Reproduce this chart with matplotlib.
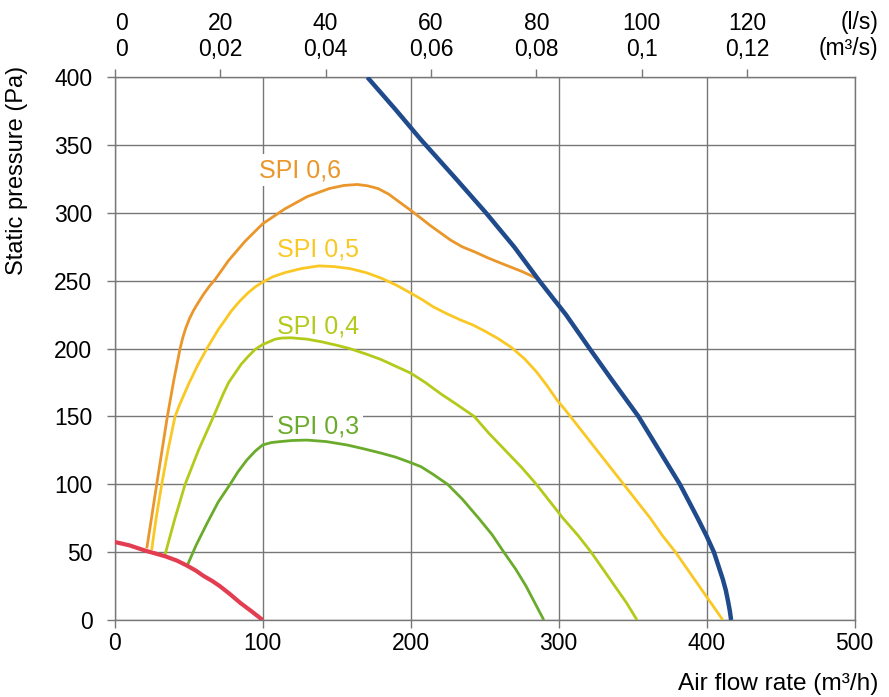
import matplotlib
matplotlib.use("Agg")
import matplotlib.pyplot as plt

plt.rcParams['font.family'] = ['Liberation Sans', 'DejaVu Sans']

# fan curve (max speed) and minimum curve, air flow in m3/h, pressure in Pa
fan_max_x = [170.8, 190, 207, 230, 251, 270, 287, 305, 321, 336, 345, 354, 361, 368, 375, 382, 388,
             394, 400, 405, 408, 411, 413, 414.5, 415.7, 416.6]
fan_max_y = [400, 376, 354, 326, 300, 275, 250, 225, 200, 177, 163.5, 150, 137.5, 125, 112.5, 100, 87.5,
             75, 62, 50, 40, 30, 22, 14, 7, 0]

fan_min_x = [0, 10, 21, 34, 42, 49, 55, 60, 66, 71, 78, 85, 92, 100]
fan_min_y = [57.5, 55, 51, 47, 43.8, 40, 36.3, 32.5, 28.7, 25, 19, 12.5, 6.8, 0]

# SPI iso-curves
spi06_x = [21.7, 25, 28.4, 32, 35.6, 40, 44.2, 46, 48, 50.5, 53.2, 56.5, 60, 64, 67.9, 77, 88, 100,
           115, 130, 145, 155, 164, 171, 178, 185, 190, 200, 206, 213, 220, 227, 235, 244, 252,
           261, 268, 275, 281, 287]
spi06_y = [52.8, 76, 100, 125, 150, 177, 200, 208, 215, 222, 228, 234, 240, 246, 251, 265, 279, 292,
           303, 312, 318, 320.3, 321, 320, 318, 314, 310, 302, 297, 291, 285.5, 280, 275, 271, 267,
           263, 260, 257, 254, 251]

spi05_x = [25, 28, 31.8, 36, 40.8, 44, 50, 56, 62.3, 70, 79, 84.5, 90, 95, 100, 107, 115, 126, 138,
           148, 159, 170, 180, 190, 200, 208, 215, 224, 234, 242, 250, 259, 268, 277, 285, 292, 299,
           304, 308, 317, 326, 335, 344, 353, 362, 370, 379, 387, 395, 403, 411]
spi05_y = [51.6, 75, 100, 125, 150, 159, 174, 187.5, 200, 214, 228, 235, 241, 245.5, 249, 253, 256, 259,
           261, 260.5, 259, 256, 252, 247, 241, 236, 231, 226, 221, 217.5, 213, 207.5, 201, 192.5, 183,
           173, 162, 155.5, 150, 137.5, 125, 112.5, 100, 87.5, 75, 62.5, 50, 37.5, 25, 12.5, 0]

spi04_x = [34, 40.5, 47.6, 56.6, 66.8, 73.5, 77, 81.4, 85.5, 90, 95, 100, 108.5, 113, 119, 130, 140,
           150, 159, 170, 180, 190, 200, 210, 220, 231, 243, 253, 264, 275, 285, 294, 303, 313, 322,
           330, 338, 346, 353]
spi04_y = [48, 74, 100, 125, 150, 167, 175, 182, 188.5, 194, 199.5, 203, 207, 207.8, 208, 207, 205,
           202.5, 200, 196, 192, 187, 182, 175, 167, 159, 150, 137.5, 125, 112.5, 100, 87.5, 75, 62.5,
           50, 37.5, 25, 12.5, 0]

spi03_x = [49.2, 55, 62.3, 70, 78, 83.5, 89.4, 95, 100, 106, 112, 120, 130, 143, 157, 169, 180, 190,
           200, 207, 215, 225, 235, 246, 255, 263, 271, 278, 284, 290]
spi03_y = [40.5, 55, 71, 87, 100, 109.5, 118, 124.5, 129, 130.8, 131.5, 132.3, 132.6, 131.5, 129, 126,
           123, 120, 116, 113, 107.5, 100, 89, 75, 63, 50, 37.5, 25, 12.5, 0]

spi_labels = ['SPI 0,6', 'SPI 0,5', 'SPI 0,4', 'SPI 0,3']
spi_label_x = [97.2, 109.7, 109.7, 109.7]
spi_label_y = [326.5, 267.7, 211.3, 137.6]

# top axis
ls_ticks = [0, 20, 40, 60, 80, 100, 120]
m3s_labels = ['0', '0,02', '0,04', '0,06', '0,08', '0,1', '0,12']
LS_FACTOR = 3.5625  # m3/h per l/s as drawn in the source chart

GRID = '#777777'
colors = {
    'SPI 0,6': '#EA962A',
    'SPI 0,5': '#FAC825',
    'SPI 0,4': '#B4CA1A',
    'SPI 0,3': '#6AAB2C',
}

fig = plt.figure(figsize=(8.89, 6.97), dpi=100)
ax = fig.add_axes([0.129, 0.1105, 0.8322, 0.7786])

spi_data = [(spi06_x, spi06_y), (spi05_x, spi05_y), (spi04_x, spi04_y), (spi03_x, spi03_y)]
for name, (xs, ys) in zip(spi_labels, spi_data):
    ax.plot(xs, ys, color=colors[name], lw=2.0, solid_capstyle='butt', solid_joinstyle='round', zorder=3)

ax.plot(fan_min_x, fan_min_y, color='#E23D50', lw=3.0, solid_capstyle='butt', solid_joinstyle='round', zorder=4)
ax.plot(fan_max_x, fan_max_y, color='#1F4A8C', lw=3.2, solid_capstyle='butt', solid_joinstyle='round', zorder=5)

for name, lx, ly in zip(spi_labels, spi_label_x, spi_label_y):
    ax.text(lx, ly, name, color=colors[name], fontsize=18, ha='left', va='baseline', zorder=2,
            bbox=dict(boxstyle='square,pad=0.15', fc='white', ec='none'))

ax.set_xlim(0, 500)
ax.set_ylim(0, 400)
ax.set_xticks(range(0, 501, 100))
ax.set_yticks(range(0, 401, 50))
ax.grid(True, color=GRID, lw=1)
ax.set_axisbelow(True)
for sp in ax.spines.values():
    sp.set_color(GRID)
    sp.set_linewidth(1)
ax.tick_params(axis='both', direction='out', length=6, width=1, color=GRID, labelsize=16.5)
ax.tick_params(axis='x', pad=3)
ax.tick_params(axis='y', pad=10)

to_ls = (lambda x: x / LS_FACTOR, lambda x: x * LS_FACTOR)
top1 = ax.secondary_xaxis('top', functions=to_ls)
top1.set_xticks(ls_ticks, labels=m3s_labels)
top1.tick_params(direction='out', length=6, width=1, color=GRID, labelsize=16.5, pad=5.8)
top1.spines['top'].set_visible(False)

top2 = ax.secondary_xaxis('top', functions=to_ls)
top2.set_xticks(ls_ticks, labels=[str(v) for v in ls_ticks])
top2.tick_params(length=0, labelsize=16.5, pad=30.5)
top2.spines['top'].set_visible(False)

# the "0" on the top scale sits right of its tick in the original
for sec in (top1, top2):
    sec.xaxis.get_major_ticks()[0].label2.set_horizontalalignment('left')

fig.text(878 / 889, 1 - 22 / 697, '(l/s)', fontsize=16.5, ha='right', va='center')
fig.text(878 / 889, 1 - 48 / 697, '(m³/s)', fontsize=16.5, ha='right', va='center')

fig.text(17.5 / 889, 1 - 170 / 697, 'Static pressure (Pa)', fontsize=17, rotation=90,
         ha='center', va='center')
fig.text(878 / 889, 1 - 684 / 697, 'Air flow rate (m³/h)', fontsize=17.6, ha='right', va='center')

fig.savefig('out.png', dpi=100)
